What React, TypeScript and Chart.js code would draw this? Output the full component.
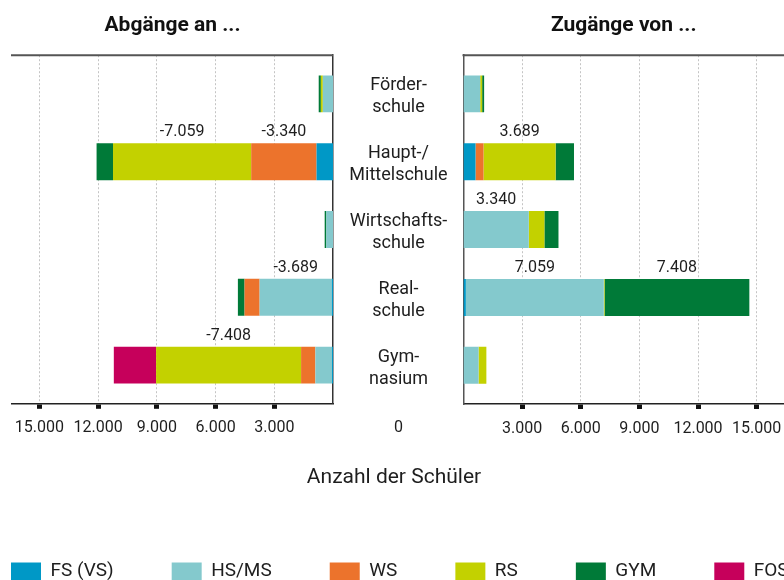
import React, { useEffect, useRef } from 'react';
import { Chart, registerables } from 'chart.js';

Chart.register(...registerables);

// ---- data ----
const schools: string[][] = [
  ['Förder-', 'schule'],
  ['Haupt-/', 'Mittelschule'],
  ['Wirtschafts-', 'schule'],
  ['Real-', 'schule'],
  ['Gym-', 'nasium'],
];
const seriesNames = ['FS (VS)', 'HS/MS', 'WS', 'RS', 'GYM', 'FOS'];
const seriesColors = ['#0098c6', '#84c9cd', '#ec732c', '#c3d100', '#007a38', '#c6005b'];

// Abgänge an ... (rows: leaving school type, series: target school type)
const abFS = [0, -840, 0, -60, -50];
const abHS = [-520, 0, -340, -3689, -850];
const abWS = [0, -3340, 0, -770, -730];
const abRS = [-100, -7059, 0, 0, -7408];
const abGYM = [-110, -840, -85, -340, 0];
const abFOS = [0, 0, 0, 0, -2160];

// Zugänge von ... (rows: receiving school type, series: origin school type)
const zuFS = [0, 615, 0, 120, 0];
const zuHS = [855, 0, 3340, 7059, 770];
const zuWS = [0, 410, 0, 0, 0];
const zuRS = [100, 3689, 800, 40, 400];
const zuGYM = [100, 940, 720, 7408, 0];
const zuFOS = [0, 0, 0, 0, 0];

const axisMax = 16400;
const tickValues = [3000, 6000, 9000, 12000, 15000];
const labelThreshold = 3000;
const titleLeft = 'Abgänge an ...';
const titleRight = 'Zugänge von ...';
const axisTitle = 'Anzahl der Schüler';
const zeroLabel = '0';

const FONT = "Roboto, 'Noto Sans', sans-serif";
const TEXT = '#1e1e1e';

const fmt = (v: number) =>
  (v < 0 ? '-' : '') + Math.round(Math.abs(v)).toString().replace(/\B(?=(\d{3})+(?!\d))/g, '.');

const valueLabels = {
  id: 'valueLabels',
  afterDatasetsDraw(chart: any) {
    const ctx = chart.ctx;
    ctx.save();
    ctx.font = `16px ${FONT}`;
    ctx.fillStyle = TEXT;
    ctx.textAlign = 'center';
    ctx.textBaseline = 'middle';
    chart.data.datasets.forEach((ds: any, di: number) => {
      const meta = chart.getDatasetMeta(di);
      meta.data.forEach((el: any, i: number) => {
        const v = ds.data[i];
        if (Math.abs(v) < labelThreshold) return;
        const p = el.getProps(['x', 'base', 'y', 'height'], true);
        ctx.fillText(fmt(v), (p.x + p.base) / 2, p.y - p.height / 2 - 11);
      });
    });
    ctx.restore();
  },
};

const frameTop = {
  id: 'frameTop',
  afterDraw(chart: any) {
    const { ctx, chartArea } = chart;
    ctx.save();
    ctx.strokeStyle = '#555';
    ctx.lineWidth = 2;
    ctx.beginPath();
    ctx.moveTo(chartArea.left - 1, chartArea.top);
    ctx.lineTo(chartArea.right, chartArea.top);
    ctx.stroke();
    ctx.restore();
  },
};

const centerLabels = {
  id: 'centerLabels',
  afterDraw(chart: any) {
    const { ctx, chartArea, scales } = chart;
    const cx = chartArea.left - 65;
    ctx.save();
    ctx.fillStyle = TEXT;
    ctx.textAlign = 'center';
    ctx.textBaseline = 'middle';
    ctx.font = `18px ${FONT}`;
    (chart.data.labels as string[][]).forEach((lab, i) => {
      const y = scales.y.getPixelForValue(i);
      lab.forEach((line, j) => {
        ctx.fillText(line, cx, y + 3 + (j - (lab.length - 1) / 2) * 22);
      });
    });
    ctx.font = `16px ${FONT}`;
    ctx.fillText(zeroLabel, cx, chartArea.bottom + 24);
    ctx.restore();
  },
};

const makeDatasets = (series: number[][]) =>
  series.map((data, i) => ({
    label: seriesNames[i],
    data,
    backgroundColor: seriesColors[i],
    borderColor: seriesColors[i],
    borderWidth: 0,
  }));

const xAxis = (sign: number, min: number, max: number, height: number) => ({
  type: 'linear',
  stacked: true,
  position: 'bottom',
  min,
  max,
  afterBuildTicks: (s: any) => {
    s.ticks = tickValues.map((v) => ({ value: sign * v }));
  },
  afterFit: (s: any) => {
    s.height = height;
  },
  ticks: {
    autoSkip: false,
    maxRotation: 0,
    padding: 10,
    color: TEXT,
    font: { size: 16, family: FONT },
    callback: (v: any) => fmt(Math.abs(Number(v))),
  },
  grid: {
    display: true,
    color: '#c4c4c4',
    lineWidth: 1,
    drawTicks: true,
    tickLength: 5,
    tickWidth: 5,
    tickColor: '#111',
  },
  border: { display: true, color: '#222', width: 1.5, dash: [2, 2] },
});

// category rows: slightly wider end gaps than Chart.js' default offset
const rowAxisSpacing = (s: any) => {
  s._startValue = -0.57;
  s._valueRange = 5.14;
};

const titleOpts = (text: string) => ({
  display: true,
  text,
  fullSize: false,
  color: '#111',
  font: { size: 21, weight: 'bold', family: FONT },
  padding: { top: 13, bottom: 17 },
});

export default function App() {
  const leftRef = useRef<HTMLCanvasElement>(null);
  const rightRef = useRef<HTMLCanvasElement>(null);

  useEffect(() => {
    Chart.defaults.font.family = FONT;
    const left = new Chart(leftRef.current as HTMLCanvasElement, {
      type: 'bar',
      data: {
        labels: schools as any,
        datasets: makeDatasets([abFS, abHS, abWS, abRS, abGYM, abFOS]) as any,
      },
      options: {
        responsive: false,
        animation: false,
        indexAxis: 'y',
        layout: { padding: { left: 12, right: 0, top: 0, bottom: 0 } },
        datasets: { bar: { categoryPercentage: 0.545, barPercentage: 1 } },
        scales: {
          x: xAxis(-1, -axisMax, 0, 35) as any,
          y: {
            type: 'category',
            stacked: true,
            position: 'right',
            afterBuildTicks: rowAxisSpacing,
            afterFit: (s: any) => {
              s.width = 443;
            },
            ticks: { display: false },
            grid: { display: false, drawTicks: false },
            border: { display: true, color: '#333', width: 1.5 },
          },
        },
        plugins: {
          legend: { display: false },
          tooltip: { enabled: false },
          title: titleOpts(titleLeft) as any,
          subtitle: {
            display: true,
            text: axisTitle,
            position: 'bottom',
            fullSize: true,
            weight: 500,
            color: TEXT,
            font: { size: 21, family: FONT },
            padding: { top: 26, bottom: 90 },
          } as any,
        },
      },
      plugins: [valueLabels, frameTop],
    } as any);

    const right = new Chart(rightRef.current as HTMLCanvasElement, {
      type: 'bar',
      data: {
        labels: schools as any,
        datasets: makeDatasets([zuFS, zuHS, zuWS, zuRS, zuGYM, zuFOS]) as any,
      },
      options: {
        responsive: false,
        animation: false,
        indexAxis: 'y',
        layout: { padding: 0 },
        datasets: { bar: { categoryPercentage: 0.545, barPercentage: 1 } },
        scales: {
          x: xAxis(1, 0, axisMax, 100) as any,
          y: {
            type: 'category',
            stacked: true,
            position: 'left',
            afterBuildTicks: rowAxisSpacing,
            afterFit: (s: any) => {
              s.width = 510.5;
            },
            ticks: { display: false },
            grid: { display: false, drawTicks: false },
            border: { display: true, color: '#555', width: 1.5 },
          },
          y2: {
            type: 'category',
            position: 'right',
            afterFit: (s: any) => {
              s.width = 119;
            },
            ticks: { display: false },
            grid: { display: false, drawTicks: false },
            border: { display: false },
          },
        },
        plugins: {
          tooltip: { enabled: false },
          title: titleOpts(titleRight) as any,
          legend: {
            display: true,
            position: 'bottom',
            align: 'start',
            labels: {
              boxWidth: 30,
              boxHeight: 18,
              padding: 58,
              color: TEXT,
              font: { size: 19, family: FONT },
            },
          },
        },
      },
      plugins: [valueLabels, frameTop, centerLabels],
    } as any);

    return () => {
      left.destroy();
      right.destroy();
    };
  }, []);

  return (
    <div
      style={{
        position: 'fixed',
        left: 0,
        top: 0,
        width: 784,
        height: 580,
        overflow: 'hidden',
        background: '#ffffff',
      }}
    >
      <canvas
        ref={leftRef}
        width={776}
        height={580}
        style={{ position: 'absolute', left: 0, top: 0, width: 776, height: 580 }}
      />
      <canvas
        ref={rightRef}
        width={950}
        height={591}
        style={{ position: 'absolute', left: -47, top: 0, width: 950, height: 591 }}
      />
    </div>
  );
}
